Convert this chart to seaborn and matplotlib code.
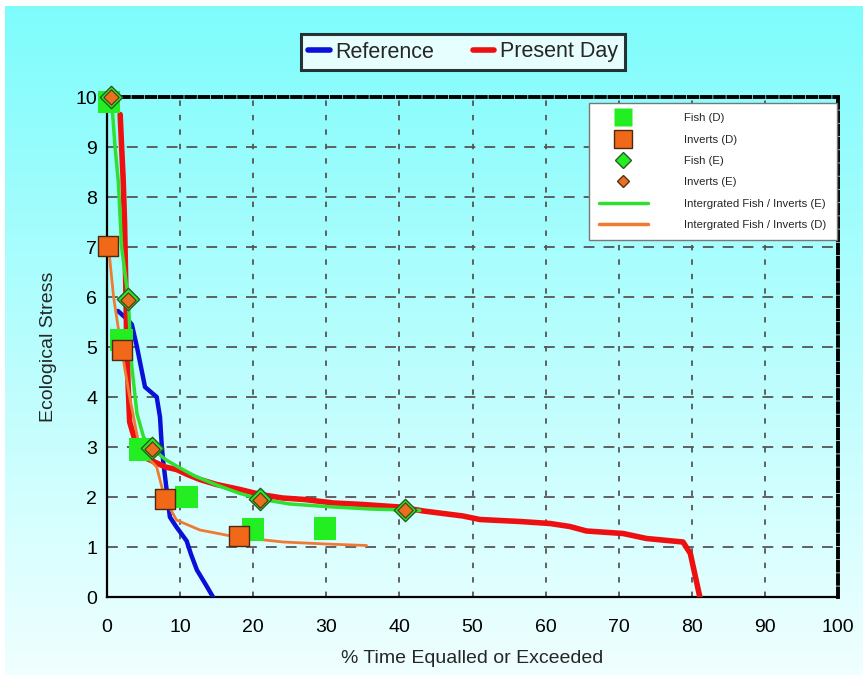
import numpy as np
import pandas as pd
import matplotlib
matplotlib.use("Agg")
import matplotlib.pyplot as plt
from matplotlib.lines import Line2D
import seaborn as sns

# ---------------- data ----------------
ref_x = [1.5, 2.8, 3.4, 4.1, 5.2, 6.0, 6.8, 7.25, 7.5, 7.7, 8.6, 9.5, 10.9, 11.5, 12.3, 13.5, 14.5]
ref_y = [5.72, 5.55, 5.45, 5.0, 4.2, 4.1, 4.0, 3.6, 3.0, 2.7, 1.6, 1.4, 1.12, 0.85, 0.54, 0.25, 0.0]

pd_x = [1.8, 2.0, 2.2, 2.4, 2.6, 2.7, 2.9, 3.1, 3.8, 4.5, 5.0, 6.5, 8.0, 9.5, 11.0, 12.7, 15.0,
        18.2, 21.0, 24.0, 27.0, 31.0, 35.0, 40.0, 43.3, 48.7, 51.0, 56.5, 60.6, 63.3, 65.6,
        70.6, 73.8, 78.8, 79.8, 81.1]
pd_y = [9.65, 9.0, 8.4, 7.5, 6.0, 5.0, 4.2, 3.5, 3.15, 2.95, 2.8, 2.7, 2.6, 2.55, 2.45, 2.35, 2.25,
        2.15, 2.05, 1.98, 1.95, 1.88, 1.85, 1.8, 1.72, 1.62, 1.55, 1.51, 1.47, 1.41, 1.32,
        1.27, 1.17, 1.1, 0.87, 0.0]

fish_d_x = [0.3, 2.0, 4.5, 10.9, 20.0, 29.8]
fish_d_y = [9.9, 5.14, 2.95, 2.0, 1.35, 1.37]

inv_d_x = [0.2, 2.0, 7.9, 18.0]
inv_d_y = [7.02, 4.94, 1.97, 1.22]

fish_e_x = [0.6, 2.9, 6.1, 20.9, 40.8]
fish_e_y = [10.0, 5.97, 2.98, 1.96, 1.75]

inv_e_x = [0.6, 2.9, 6.1, 20.9, 40.8]
inv_e_y = [10.0, 5.95, 2.96, 1.94, 1.74]

int_e_x = [0.6, 1.1, 1.55, 2.0, 2.9, 3.4, 4.1, 5.0, 6.1, 8.0, 9.5, 12.0, 15.0, 18.0, 20.9, 25.0, 31.0, 36.0, 40.8, 42.8]
int_e_y = [10.0, 9.0, 8.3, 7.0, 5.97, 4.6, 3.67, 3.2, 2.98, 2.75, 2.62, 2.42, 2.24, 2.08, 1.96, 1.86, 1.8, 1.76, 1.74, 1.73]

int_d_x = [0.2, 0.9, 2.0, 3.1, 4.5, 6.8, 7.9, 9.5, 12.7, 17.7, 24.1, 30.0, 35.5]
int_d_y = [7.02, 6.0, 4.94, 4.0, 2.95, 2.6, 1.97, 1.54, 1.34, 1.2, 1.1, 1.06, 1.03]

x_ticks = [0, 10, 20, 30, 40, 50, 60, 70, 80, 90, 100]
y_ticks = [0, 1, 2, 3, 4, 5, 6, 7, 8, 9, 10]

# ---------------- figure ----------------
sns.set_style("white")
plt.rcParams['font.family'] = ['Liberation Sans', 'DejaVu Sans']

W, H = 863, 675
fig = plt.figure(figsize=(W / 100, H / 100), dpi=100)
fig.patch.set_facecolor("white")

# gradient background
bg = fig.add_axes([5 / W, 0, 1 - 5 / W, 1 - 6 / H], zorder=-10)
n = 256
t = np.linspace(0, 1, n)[:, None]
top = np.array([126, 252, 252]) / 255
bot = np.array([240, 255, 255]) / 255
grad = top[None, None, :] * (1 - t[:, :, None]) + bot[None, None, :] * t[:, :, None]
bg.imshow(grad, aspect="auto", extent=[0, 1, 0, 1])
bg.set_axis_off()

ax = fig.add_axes([107 / W, 1 - 597 / H, (838 - 107) / W, (597 - 97) / H])
ax.patch.set_alpha(0)

df_ref = pd.DataFrame({"x": ref_x, "y": ref_y})
df_pd = pd.DataFrame({"x": pd_x, "y": pd_y})
df_ie = pd.DataFrame({"x": int_e_x, "y": int_e_y})
df_id = pd.DataFrame({"x": int_d_x, "y": int_d_y})

sns.lineplot(data=df_ref, x="x", y="y", ax=ax, sort=False, estimator=None,
             color="#0a10d8", lw=3.2, zorder=3)
sns.lineplot(data=df_pd, x="x", y="y", ax=ax, sort=False, estimator=None,
             color="#ee1010", lw=4.0, zorder=3)
sns.lineplot(data=df_id, x="x", y="y", ax=ax, sort=False, estimator=None,
             color="#f07a32", lw=2.0, zorder=4)
sns.lineplot(data=df_ie, x="x", y="y", ax=ax, sort=False, estimator=None,
             color="#30e030", lw=2.5, zorder=4)

green = "#22ee22"
orange = "#f06818"
sns.scatterplot(x=fish_d_x, y=fish_d_y, ax=ax, marker="s", s=260, color=green,
                edgecolor="none", linewidth=0, zorder=5, clip_on=False)
sns.scatterplot(x=inv_d_x, y=inv_d_y, ax=ax, marker="s", s=220, color=orange,
                edgecolor="#4a2a10", linewidth=1.0, zorder=6, clip_on=False)
sns.scatterplot(x=fish_e_x, y=fish_e_y, ax=ax, marker="D", s=130, color=green,
                edgecolor="#2a5a2a", linewidth=1.0, zorder=7, clip_on=False)
sns.scatterplot(x=inv_e_x, y=inv_e_y, ax=ax, marker="D", s=60, color="#e87020",
                edgecolor="#5a3010", linewidth=0.8, zorder=8, clip_on=False)

ax.set_xlim(0, 100)
ax.set_ylim(0, 10)
ax.set_xticks(x_ticks)
ax.set_yticks(y_ticks)
ax.set_xticklabels([str(v) for v in x_ticks])
ax.set_yticklabels([str(v) for v in y_ticks])
ax.set_xticks(np.arange(0, 101, 2), minor=True)
ax.set_yticks(np.arange(0, 10.01, 0.2), minor=True)
ax.tick_params(axis="both", which="major", direction="in", length=6, width=1.2,
               labelsize=14, colors="black")
ax.tick_params(axis="x", which="major", pad=16)
ax.tick_params(axis="y", which="major", pad=7)
ax.tick_params(axis="both", which="minor", direction="in", length=3, width=0.8)

# grid
for xv in x_ticks[1:-1]:
    ax.axvline(xv, color="#555555", lw=1.3, ls=(0, (3, 5)), zorder=1)
for yv in y_ticks[1:-1]:
    ax.axhline(yv, color="#555555", lw=1.3, ls=(0, (6, 5)), zorder=1)

for s in ["left", "bottom"]:
    ax.spines[s].set_color("black")
    ax.spines[s].set_linewidth(1.6)
for s in ["top", "right"]:
    ax.spines[s].set_color("black")
    ax.spines[s].set_linewidth(2.8)
    ax.spines[s].set_linestyle((0, (2.2, 1.2)))

ax.set_xlabel("% Time Equalled or Exceeded", fontsize=14, labelpad=10)
ax.set_ylabel("Ecological Stress", fontsize=14, labelpad=13)

# inner legend
handles = [
    Line2D([], [], ls="none", marker="s", ms=13, mfc=green, mec="none"),
    Line2D([], [], ls="none", marker="s", ms=13, mfc=orange, mec="#4a2a10"),
    Line2D([], [], ls="none", marker="D", ms=8, mfc=green, mec="#2a5a2a"),
    Line2D([], [], ls="none", marker="D", ms=6, mfc="#e87020", mec="#5a3010"),
    Line2D([], [], color="#30e030", lw=2.5),
    Line2D([], [], color="#f07a32", lw=2.5),
]
labels = ["Fish (D)", "Inverts (D)", "Fish (E)", "Inverts (E)",
          "Intergrated Fish / Inverts (E)", "Intergrated Fish / Inverts (D)"]
leg = ax.legend(handles, labels, loc="upper right", bbox_to_anchor=(1.003, 0.995),
                fontsize=8.2, frameon=True, fancybox=False, handlelength=4.3,
                handletextpad=3.2, labelspacing=1.0, borderpad=0.9, borderaxespad=0.3)
leg.get_frame().set_edgecolor("#777777")
leg.get_frame().set_linewidth(1.0)
leg.get_frame().set_facecolor("white")
leg.get_frame().set_alpha(1)
leg.set_zorder(10)

# top legend
th = [Line2D([], [], color="#0a10d8", lw=4), Line2D([], [], color="#ee1010", lw=4)]
tl = fig.legend(th, ["Reference", "Present Day"], loc="center",
                bbox_to_anchor=(463 / W, 1 - 52 / H), ncol=2, fontsize=15.5,
                frameon=True, fancybox=False, handlelength=1.0, handletextpad=0.25,
                columnspacing=1.8, borderpad=0.35, shadow=False)
tl.get_frame().set_edgecolor("black")
tl.get_frame().set_linewidth(2.2)
tl.get_frame().set_facecolor("white")

fig.savefig("out.png", dpi=100)
